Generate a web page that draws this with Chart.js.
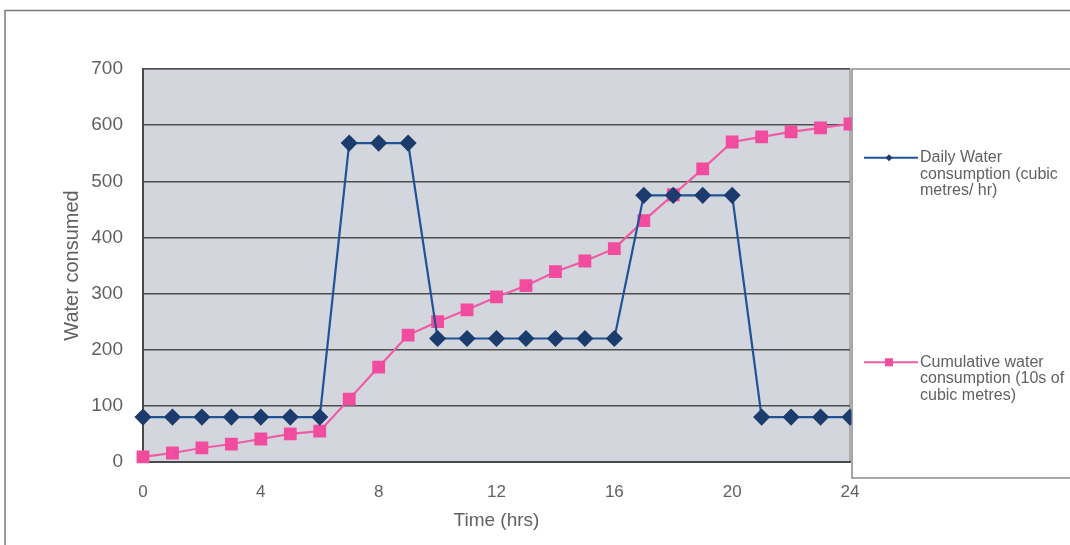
<!DOCTYPE html>
<html>
<head>
<meta charset="utf-8">
<script src="https://cdn.jsdelivr.net/npm/chart.js@4/dist/chart.umd.min.js"></script>
<style>
  html,body{margin:0;padding:0;background:#fff;}
  #wrap{position:relative;width:1070px;height:545px;}
</style>
</head>
<body>
<div id="wrap"><canvas id="c" width="1070" height="545"></canvas></div>
<script>
const hours = [0,1,2,3,4,5,6,7,8,9,10,11,12,13,14,15,16,17,18,19,20,21,22,23,24];
const dailyWater = [80,80,80,80,80,80,80,568,568,568,220,220,220,220,220,220,220,475,475,475,475,80,80,80,80];
const cumulativeWater = [9,16,25,32,41,50,55,112,169,226,250,271,294,314,339,358,380,430,476,522,570,579,588,595,602];
const dailyLabel = ["Daily Water", "consumption (cubic", "metres/ hr)"];
const cumulativeLabel = ["Cumulative water", "consumption (10s of", "cubic metres)"];
const xTickValues = [0,4,8,12,16,20,24];
const yTickValues = [0,100,200,300,400,500,600,700];
const xTitle = "Time (hrs)";
const yTitle = "Water consumed";

const FONT = "'Liberation Sans', Arial, sans-serif";
const TXT = '#616161';

const plotBg = {
  id: 'plotBg',
  beforeDraw(chart) {
    const {ctx, chartArea: a} = chart;
    ctx.save();
    ctx.fillStyle = '#d4d6de';
    ctx.fillRect(a.left, a.top, a.right - a.left, a.bottom - a.top);
    ctx.strokeStyle = '#9a9a9a';
    ctx.lineWidth = 1.5;
    ctx.beginPath();
    ctx.moveTo(a.left, a.top); ctx.lineTo(a.right, a.top); ctx.lineTo(a.right, a.bottom);
    ctx.stroke();
    // outer frame
    ctx.strokeStyle = '#7a7a7a';
    ctx.lineWidth = 1.5;
    ctx.beginPath();
    ctx.moveTo(5, 545); ctx.lineTo(5, 10.5); ctx.lineTo(1070, 10.5);
    ctx.stroke();
    ctx.restore();
  }
};

const boxLegend = {
  id: 'boxLegend',
  afterDraw(chart) {
    const {ctx, chartArea: a} = chart;
    const x0 = a.right + 2, y0 = a.top, x1 = 1075, y1 = 478;
    ctx.save();
    ctx.fillStyle = '#fff';
    ctx.fillRect(x0, y0, x1 - x0, y1 - y0);
    ctx.strokeStyle = '#8a8a8a';
    ctx.lineWidth = 1.5;
    ctx.strokeRect(x0, y0, x1 - x0, y1 - y0);
    const ds = chart.data.datasets;
    const half = (y1 - y0) / ds.length;
    const lh = 16.5;
    ds.forEach((d, i) => {
      const lines = d.label;
      const cy = y0 + half * i + half / 2 + 3;
      const ty = cy - (lines.length - 1) * lh / 2;
      ctx.strokeStyle = d.borderColor;
      ctx.lineWidth = 2;
      ctx.beginPath(); ctx.moveTo(864, ty); ctx.lineTo(918, ty); ctx.stroke();
      ctx.fillStyle = d.pointBackgroundColor;
      if (d.pointStyle === 'rectRot') {
        ctx.beginPath();
        ctx.moveTo(889, ty - 3.5); ctx.lineTo(892.5, ty); ctx.lineTo(889, ty + 3.5); ctx.lineTo(885.5, ty);
        ctx.closePath(); ctx.fill();
      } else {
        ctx.fillRect(885, ty - 4, 8, 8);
      }
      ctx.fillStyle = TXT;
      ctx.font = "16px " + FONT;
      ctx.textBaseline = 'middle';
      ctx.textAlign = 'left';
      lines.forEach((t, k) => ctx.fillText(t, 920, ty + k * lh));
    });
    ctx.restore();
  }
};

new Chart(document.getElementById('c'), {
  type: 'line',
  data: {
    datasets: [
      {
        label: dailyLabel,
        data: hours.map((h, i) => ({x: h, y: dailyWater[i]})),
        borderColor: '#1f5396',
        backgroundColor: '#1b3c6c',
        pointBackgroundColor: '#1b3c6c',
        pointBorderColor: '#1b3c6c',
        pointStyle: 'rectRot',
        pointRadius: 7,
        borderWidth: 2.2,
        tension: 0,
        clip: false
      },
      {
        label: cumulativeLabel,
        data: hours.map((h, i) => ({x: h, y: cumulativeWater[i]})),
        borderColor: '#ef5ba5',
        backgroundColor: '#f24c9e',
        pointBackgroundColor: '#f24c9e',
        pointBorderColor: '#f24c9e',
        pointStyle: 'rect',
        pointRadius: 7.5,
        borderWidth: 2.2,
        tension: 0,
        clip: false
      }
    ]
  },
  options: {
    responsive: false,
    animation: false,
    events: [],
    layout: {padding: {left: 52, top: 69, right: 220, bottom: 0}},
    plugins: {legend: {display: false}, tooltip: {enabled: false}},
    scales: {
      x: {
        type: 'linear', min: 0, max: 24,
        afterBuildTicks: s => { s.ticks = xTickValues.map(v => ({value: v})); },
        afterFit: s => { s.height = 83; },
        grid: {display: false, drawTicks: false},
        border: {display: true, color: '#4a4a4a', width: 2},
        ticks: {color: TXT, font: {family: FONT, size: 17}, padding: 20},
        title: {display: true, text: xTitle, color: TXT, font: {family: FONT, size: 19}, padding: {top: 4, bottom: 13}}
      },
      y: {
        min: 0, max: 700,
        afterBuildTicks: s => { s.ticks = yTickValues.map(v => ({value: v})); },
        afterFit: s => { s.width = 143 - 52; },
        grid: {color: '#4e4e4e', lineWidth: 1.5, drawTicks: false},
        border: {display: true, color: '#4a4a4a', width: 2},
        ticks: {color: TXT, font: {family: FONT, size: 19}, padding: 20},
        title: {display: true, text: yTitle, color: TXT, font: {family: FONT, size: 20}, padding: {top: 8, bottom: 0}}
      }
    }
  },
  plugins: [plotBg, boxLegend]
});
</script>
</body>
</html>
